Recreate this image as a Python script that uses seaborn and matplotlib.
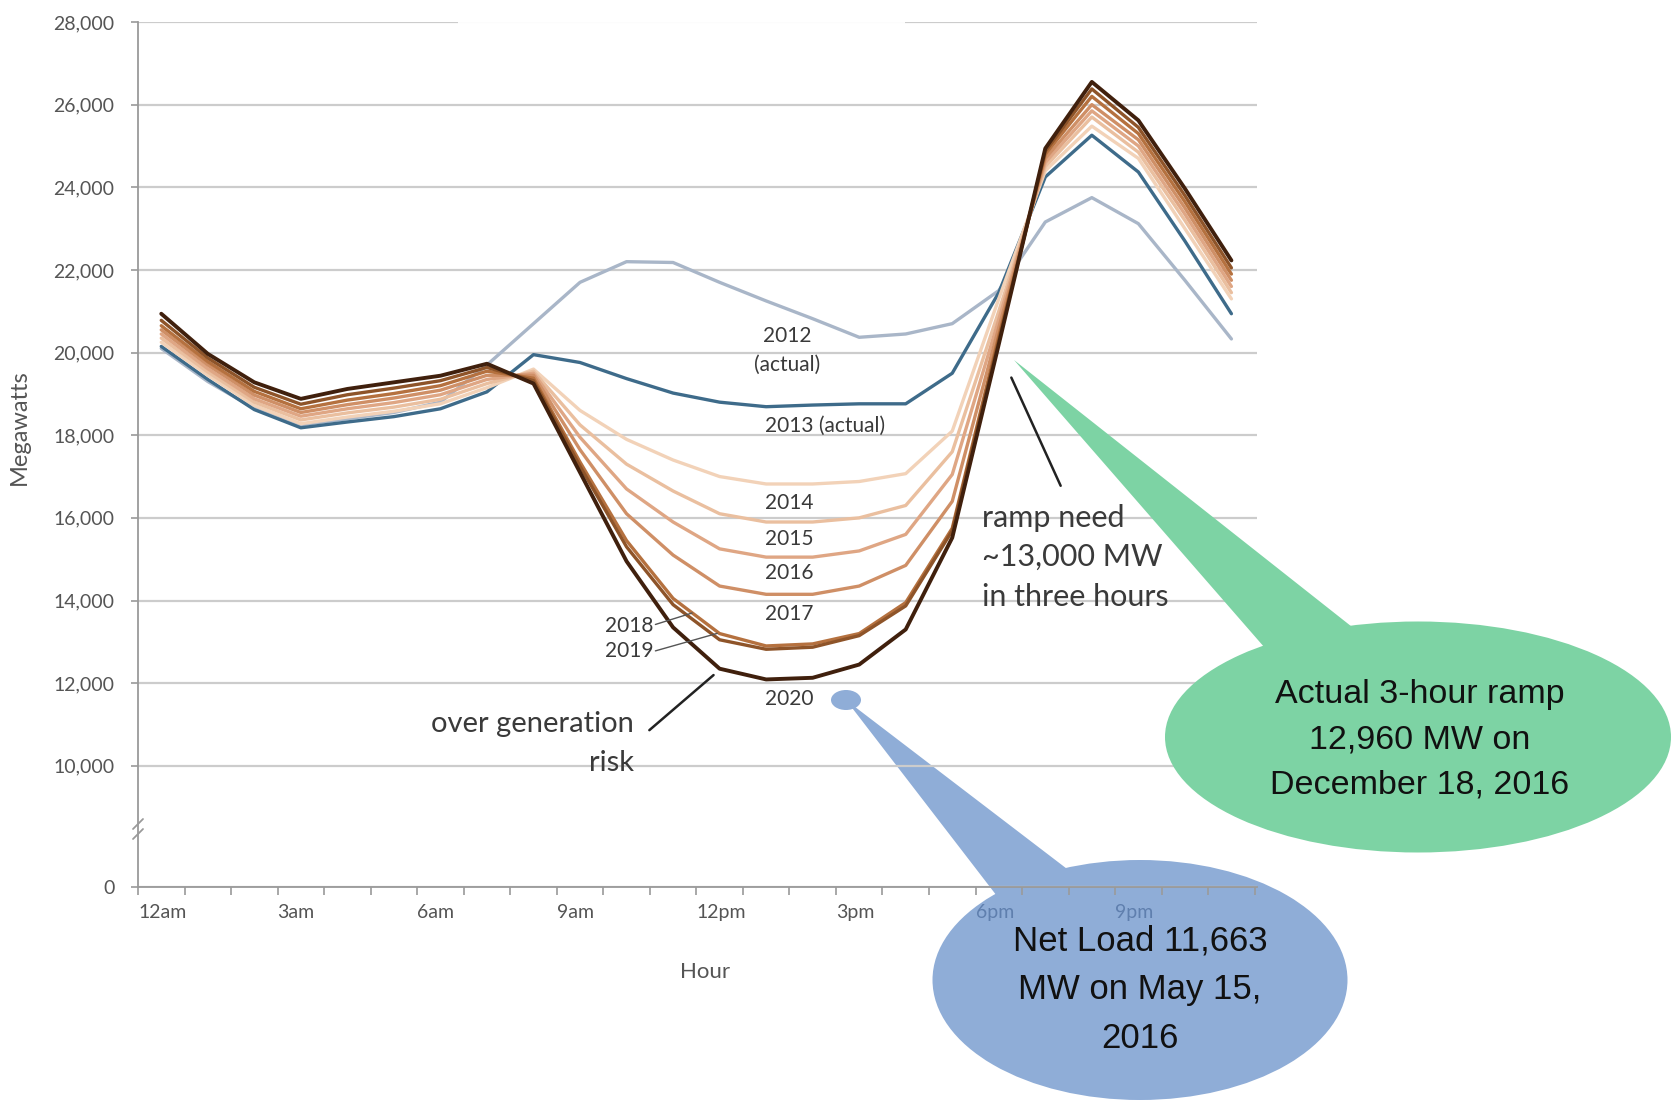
import numpy as np
import pandas as pd
import matplotlib
matplotlib.use('Agg')
import matplotlib.pyplot as plt
import seaborn as sns
from matplotlib.patches import Ellipse, Polygon, Rectangle

# net load by hour ending, MW
hour_ending = list(range(1, 25))
load_2012 = [20100, 19300, 18650, 18250, 18400, 18550, 18800, 19700, 20700, 21700, 22200, 22180,
             21700, 21250, 20820, 20370, 20450, 20700, 21500, 23160, 23750, 23120, 21750, 20330]
load_2013 = [20150, 19350, 18620, 18180, 18320, 18450, 18640, 19050, 19950, 19760, 19370, 19020,
             18800, 18690, 18730, 18760, 18760, 19500, 21450, 24250, 25260, 24370, 22700, 20940]
load_2014 = [20250, 19450, 18720, 18280, 18440, 18580, 18760, 19150, 19600, 18600, 17900, 17400,
             17000, 16820, 16820, 16880, 17070, 18100, 21300, 24400, 25480, 24700, 23000, 21300]
load_2015 = [20350, 19530, 18800, 18370, 18540, 18680, 18870, 19250, 19550, 18250, 17300, 16650,
             16100, 15900, 15900, 16000, 16300, 17600, 21000, 24500, 25700, 24850, 23200, 21450]
load_2016 = [20450, 19610, 18880, 18460, 18640, 18790, 18980, 19350, 19500, 17950, 16700, 15900,
             15250, 15050, 15050, 15200, 15600, 17050, 20800, 24600, 25850, 25000, 23350, 21600]
load_2017 = [20550, 19700, 18970, 18550, 18740, 18900, 19090, 19450, 19450, 17650, 16100, 15100,
             14350, 14150, 14150, 14350, 14850, 16400, 20600, 24700, 26000, 25150, 23500, 21750]
load_2018 = [20650, 19780, 19060, 18640, 18850, 19010, 19200, 19550, 19380, 17350, 15450, 14050,
             13200, 12900, 12950, 13200, 13950, 15750, 20400, 24800, 26200, 25300, 23650, 21900]
load_2019 = [20780, 19870, 19160, 18750, 18980, 19140, 19320, 19640, 19320, 17250, 15300, 13900,
             13050, 12820, 12870, 13150, 13870, 15690, 20300, 24870, 26380, 25450, 23800, 22050]
load_2020 = [20940, 19970, 19280, 18880, 19120, 19280, 19440, 19730, 19250, 17100, 14950, 13350,
             12350, 12090, 12130, 12450, 13300, 15520, 20200, 24940, 26550, 25620, 23970, 22230]

years = ['2012', '2013', '2014', '2015', '2016', '2017', '2018', '2019', '2020']
series = [load_2012, load_2013, load_2014, load_2015, load_2016, load_2017, load_2018, load_2019, load_2020]
palette = {'2012': '#a9b6c8', '2013': '#3e6b8a', '2014': '#f2d2b8', '2015': '#eabf9f',
           '2016': '#dfa684', '2017': '#cf8f66', '2018': '#b5713f', '2019': '#8e5429',
           '2020': '#40200d'}

hour_labels = ['12am', '3am', '6am', '9am', '12pm', '3pm', '6pm', '9pm']
ytick_vals = [0, 10000, 12000, 14000, 16000, 18000, 20000, 22000, 24000, 26000, 28000]

frames = []
for yr, vals in zip(years, series):
    frames.append(pd.DataFrame({'hour': np.array(hour_ending) - 0.5, 'MW': vals, 'year': yr}))
df = pd.concat(frames, ignore_index=True)

sns.set_style('white')
plt.rcParams['font.family'] = ['Lato', 'DejaVu Sans']

W, H = 1673, 1105
fig = plt.figure(figsize=(W / 100, H / 100), dpi=100)

# back layer (pixel coords) for the blue callout, so the axis shows through it
back = fig.add_axes([0, 0, 1, 1], zorder=0)
back.set_xlim(0, W)
back.set_ylim(H, 0)
back.axis('off')

ax = fig.add_axes([138 / W, 1 - 887 / H, (1257 - 138) / W, (887 - 22) / H], zorder=1)
ax.patch.set_alpha(0)

# broken axis: squeeze everything under 10,000
r = 0.2933
def fwd(y):
    y = np.asarray(y, dtype=float)
    return np.where(y >= 10000, y, 10000 - (10000 - y) * r)
def inv(z):
    z = np.asarray(z, dtype=float)
    return np.where(z >= 10000, z, 10000 - (10000 - z) / r)
ax.set_yscale('function', functions=(fwd, inv))

sns.lineplot(data=df, x='hour', y='MW', hue='year', hue_order=years, palette=palette,
             estimator=None, sort=False, linewidth=2.4, legend=False, ax=ax)
ax.lines[-1].set_linewidth(2.8)

ax.set_xlim(0, 24.05)
ax.set_ylim(0, 28000)
ax.set_yticks(ytick_vals)
ax.set_yticklabels([f'{v:,}' for v in ytick_vals])
ax.set_xticks(range(25))
xl = [''] * 25
for k, lab in enumerate(hour_labels):
    xl[k * 3] = lab
ax.set_xticklabels(xl, ha='left')
ax.set_xlabel('')
ax.set_ylabel('')
ax.yaxis.grid(True, color='#cccccc', lw=1.6)
ax.xaxis.grid(False)
for s in ['top', 'right']:
    ax.spines[s].set_visible(False)
for s in ['left', 'bottom']:
    ax.spines[s].set_color('#9a9a9a')
    ax.spines[s].set_linewidth(1.3)
ax.tick_params(axis='y', length=5, width=1.2, color='#9a9a9a', labelsize=14,
               labelcolor='#555555', pad=12, left=True)
ax.tick_params(axis='x', length=6, width=1.2, color='#9a9a9a', labelsize=14,
               labelcolor='#555555', pad=6, bottom=True)
# the evening labels sit under the blue bubble
for t in ax.get_xticklabels():
    if t.get_text() in ('6pm', '9pm'):
        t.set_color('#5f7fae')

# curve labels
tc = '#3a3a3a'
ax.text(13.96, 20050, '2012\n(actual)', ha='center', va='center', fontsize=15, color=tc, linespacing=1.55)
ax.text(14.77, 18230, '2013 (actual)', ha='center', va='center', fontsize=15, color=tc)
for yr, yv in [('2014', 16365), ('2015', 15490), ('2016', 14670), ('2017', 13675), ('2020', 11615)]:
    ax.text(13.99, yv, yr, ha='center', va='center', fontsize=15, color=tc)
ax.text(11.08, 13383, '2018', ha='right', va='center', fontsize=15, color=tc)
ax.text(11.08, 12781, '2019', ha='right', va='center', fontsize=15, color=tc)
ax.plot([11.12, 11.91], [13420, 13698], color='#555555', lw=1)
ax.plot([11.12, 12.45], [12781, 13205], color='#555555', lw=1)
ax.text(10.65, 10540, 'over generation\nrisk', ha='right', va='center', fontsize=21,
        color=tc, linespacing=1.6)
ax.plot([10.99, 12.37], [10862, 12196], color='#222222', lw=1.8)
ax.plot([19.83, 18.77], [16777, 19395], color='#222222', lw=1.8)

# blue callout behind the axis
blue = '#8fadd7'
back.add_patch(Polygon([(846, 700), (1000, 900), (1075, 875)], closed=True, color=blue, lw=0))
back.add_patch(Ellipse((846, 700), 30, 20, color=blue, lw=0))
back.add_patch(Ellipse((1140, 980), 415, 240, color=blue, lw=0))

# front layer for the rest
ov = fig.add_axes([0, 0, 1, 1], zorder=5)
ov.set_xlim(0, W)
ov.set_ylim(H, 0)
ov.axis('off')

ov.add_patch(Rectangle((458, 0), 447, 30, color='white', alpha=0.95, lw=0))
ov.plot([133, 143], [829, 819], color='#9a9a9a', lw=1.3)
ov.plot([133, 143], [839, 829], color='#9a9a9a', lw=1.3)

green = '#7dd3a4'
ov.add_patch(Polygon([(1014, 360), (1285, 671), (1380, 649)], closed=True, color=green, lw=0))
ov.add_patch(Ellipse((1418, 737), 506, 231, color=green, lw=0))
ov.text(1420, 740, 'Actual 3-hour ramp\n12,960 MW on\nDecember 18, 2016', ha='center', va='center',
        fontsize=24.5, family='Liberation Sans', color='#111111', linespacing=1.6, zorder=6)
ov.text(1140, 990, 'Net Load 11,663\nMW on May 15,\n2016', ha='center', va='center',
        fontsize=25, family='Liberation Sans', color='#111111', linespacing=1.6, zorder=6)

ov.text(982, 557, 'ramp need\n~13,000 MW\nin three hours', ha='left', va='center', fontsize=22,
        color=tc, linespacing=1.5, zorder=6)

fig.text(705 / W, 1 - 972 / H, 'Hour', ha='center', va='center', fontsize=16, color='#555555')
fig.text(19 / W, 1 - 427 / H, 'Megawatts', ha='center', va='center', rotation=90,
         fontsize=17, color='#555555')

fig.savefig('out.png', dpi=100, facecolor='white')
